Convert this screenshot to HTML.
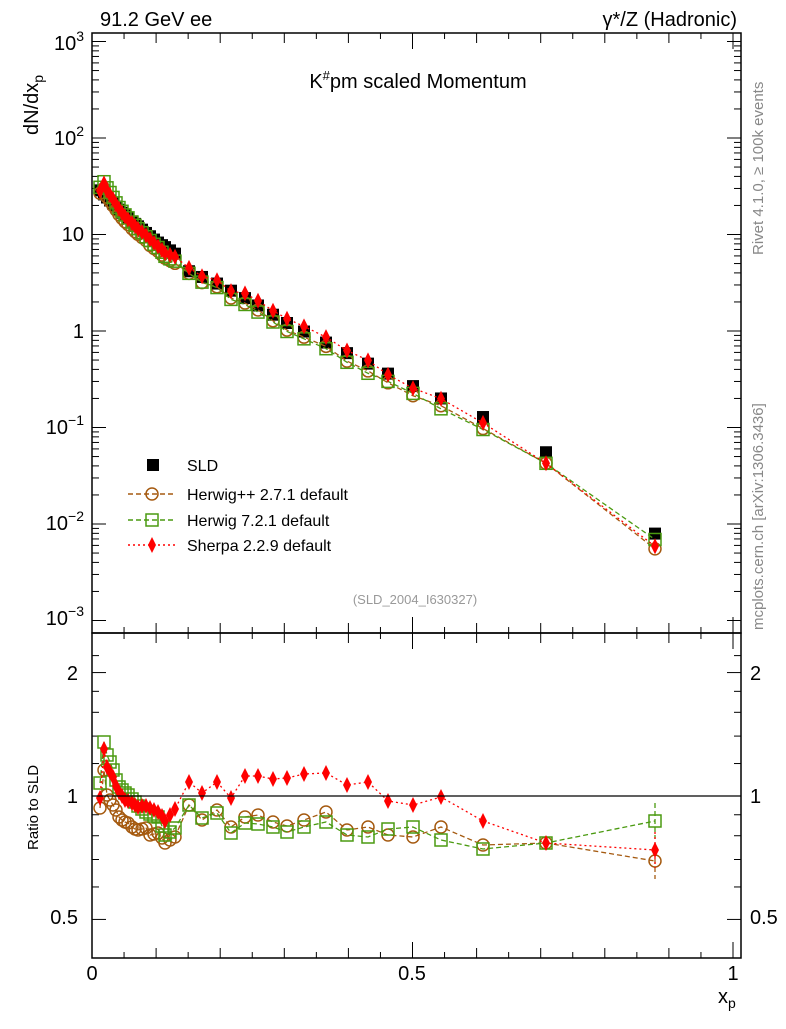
<!DOCTYPE html>
<html><head><meta charset="utf-8"><style>
body{margin:0;background:#fff}
svg{font-family:"Liberation Sans",sans-serif}
</style></head><body>
<svg id="s" width="786" height="1024" xmlns="http://www.w3.org/2000/svg">
<rect x="0" y="0" width="786" height="1024" fill="#fff"/>
<g id="g"></g>
<rect x="92" y="33" width="649" height="600" fill="none" stroke="#000" stroke-width="1.5"/>
<rect x="92" y="633" width="649" height="325" fill="none" stroke="#000" stroke-width="1.5"/>
<line x1="92" y1="796" x2="741" y2="796" stroke="#000" stroke-width="1.3"/>
<text x="100" y="26" font-size="20">91.2 GeV ee</text>
<text x="737" y="26" font-size="20" text-anchor="end">γ*/Z (Hadronic)</text>
<text x="418" y="88" font-size="20" text-anchor="middle">K<tspan font-size="13" dy="-8">#</tspan><tspan dy="8">pm scaled Momentum</tspan></text>
<text x="415" y="604" font-size="13" fill="#999" text-anchor="middle">(SLD_2004_I630327)</text>
<text transform="translate(763,255) rotate(-90)" font-size="15" fill="#888">Rivet 4.1.0, ≥ 100k events</text>
<text transform="translate(763,630) rotate(-90)" font-size="15" fill="#888">mcplots.cern.ch [arXiv:1306.3436]</text>
<text transform="translate(38,135) rotate(-90)" font-size="20">dN/dx<tspan font-size="14" dy="5">p</tspan></text>
<text transform="translate(38,850) rotate(-90)" font-size="15">Ratio to SLD</text>
<text x="718" y="1003" font-size="20">x<tspan font-size="14" dy="5">p</tspan></text>
<g font-size="20" text-anchor="end">
<text x="84" y="50">10<tspan font-size="14" dy="-9">3</tspan></text>
<text x="84" y="145">10<tspan font-size="14" dy="-9">2</tspan></text>
<text x="84" y="241">10</text>
<text x="84" y="338">1</text>
<text x="84" y="434">10<tspan font-size="14" dy="-9">−1</tspan></text>
<text x="84" y="530">10<tspan font-size="14" dy="-9">−2</tspan></text>
<text x="84" y="625">10<tspan font-size="14" dy="-9">−3</tspan></text>
<text x="78" y="680">2</text>
<text x="78" y="803">1</text>
<text x="78" y="924">0.5</text>
</g>
<g font-size="20">
<text x="750" y="680">2</text>
<text x="750" y="803">1</text>
<text x="750" y="924">0.5</text>
</g>
<g font-size="20" text-anchor="middle">
<text x="92" y="980">0</text>
<text x="412" y="980">0.5</text>
<text x="733" y="980">1</text>
</g>
<g font-size="16">
<rect x="147" y="459" width="12" height="12" fill="#000"/>
<text x="187" y="471">SLD</text>
<line x1="128" y1="494" x2="176" y2="494" stroke="#a55a10" stroke-dasharray="5,3" stroke-width="1.5"/>
<circle cx="152" cy="494" r="6" fill="none" stroke="#a55a10" stroke-width="1.5"/>
<text x="187" y="500">Herwig++ 2.7.1 default</text>
<line x1="128" y1="520" x2="176" y2="520" stroke="#4a9a10" stroke-dasharray="5,3" stroke-width="1.5"/>
<rect x="146" y="514" width="12" height="12" fill="none" stroke="#4a9a10" stroke-width="1.5"/>
<text x="187" y="526">Herwig 7.2.1 default</text>
<line x1="128" y1="545" x2="176" y2="545" stroke="#f00" stroke-dasharray="2,3" stroke-width="1.5"/>
<polygon points="152,537 156,545 152,553 148,545" fill="#f00"/>
<text x="187" y="551">Sherpa 2.2.9 default</text>
</g>
</svg>
<script>
var g=document.getElementById('g'),NS='http://www.w3.org/2000/svg';
function el(t,a){var e=document.createElementNS(NS,t);for(var k in a)e.setAttribute(k,a[k]);g.appendChild(e);return e;}
function X(x){return 92+641*x;}
function Y(v){return 331-96.5*Math.log10(v);}
function R(r){return 796-410*Math.log10(r);}
for(var d=-3;d<=3;d++){for(var m=1;m<10;m++){var v=m*Math.pow(10,d);var y=Y(v);if(y<33||y>633)continue;var L=m==1?14:7;
el('line',{x1:92,y1:y,x2:92+L,y2:y,stroke:'#000'});el('line',{x1:741,y1:y,x2:741-L,y2:y,stroke:'#000'});}}
[0.5,0.6,0.7,0.8,0.9,1,1.2,1.4,1.6,1.8,2,2.2].forEach(function(r){var y=R(r);var L=(r==0.5||r==1||r==2)?14:7;
el('line',{x1:92,y1:y,x2:92+L,y2:y,stroke:'#000'});el('line',{x1:741,y1:y,x2:741-L,y2:y,stroke:'#000'});});
for(var i=0;i<=20;i++){var x=X(i*0.05);if(x>741)continue;var L=i%10==0?16:(i%2==0?10:6);
[[33,1],[633,-1],[633,1],[958,-1]].forEach(function(p){el('line',{x1:x,y1:p[0],x2:x,y2:p[0]+p[1]*L,stroke:'#000'});});}
var px=[100,104,107,110,113,116,119,122,125,128,132,135,138,142,146,150,154,158,162,165,170,175,189,202,217,231,245,258,273,287,304,326,347,368,388,413,441,483,546,655];
var sh=[798,749,767,772,777,786,792,796,800,801,803,805,807,806,806,808,810,812,816,821,815,809,782,793,782,798,776,776,779,778,774,773,785,782,801,805,797,821,843,850];
var h7=[783,742,755,762,770,780,787,790,793,795,799,802,806,809,812,814,816,817,826,835,832,828,805,818,813,833,823,824,827,832,827,822,835,837,829,827,840,849,843,821];
var hp=[808,770,795,800,805,810,817,820,822,823,827,829,830,829,828,835,834,833,838,843,840,837,805,820,810,827,817,815,822,826,820,812,830,827,835,837,827,845,843,861];
var an=[[0.014,28],[0.05,16],[0.1,8.5],[0.13,6.3],[0.15,4.2],[0.2,3.0],[0.25,2.0],[0.3,1.25],[0.4,0.58],[0.5,0.27],[0.62,0.12],[0.72,0.05],[0.88,0.0078]];
function sld(x){for(var i=0;i<an.length-1;i++){if(x<=an[i+1][0]){var t=(x-an[i][0])/(an[i+1][0]-an[i][0]);return Math.pow(10,Math.log10(an[i][1])*(1-t)+Math.log10(an[i+1][1])*t);}}return an[an.length-1][1];}
function xv(p){return (p-92)/641;}
function series(arr,col,dash,mk){var p1=[],p2=[];px.forEach(function(p,i){var r=Math.pow(10,(796-arr[i])/410);p1.push(p+','+Y(sld(xv(p))*r));p2.push(p+','+arr[i]);});
el('polyline',{points:p1.join(' '),fill:'none',stroke:col,'stroke-dasharray':dash,'stroke-width':1.3});
el('polyline',{points:p2.join(' '),fill:'none',stroke:col,'stroke-dasharray':dash,'stroke-width':1.3});
var n=px.length-1;el('line',{x1:655,y1:arr[n]-18,x2:655,y2:arr[n]+18,stroke:col,'stroke-dasharray':dash,'stroke-width':1.3});
px.forEach(function(p,i){var r=Math.pow(10,(796-arr[i])/410);mk(p,Y(sld(xv(p))*r));mk(p,arr[i]);});}
px.forEach(function(p){var y=Y(sld(xv(p)));el('rect',{x:p-6,y:y-6,width:12,height:12,fill:'#000'});});
series(hp,'#a55a10','5,3',function(x,y){el('circle',{cx:x,cy:y,r:6,fill:'#fff','fill-opacity':0,stroke:'#a55a10','stroke-width':1.5});});
series(h7,'#4a9a10','5,3',function(x,y){el('rect',{x:x-6,y:y-6,width:12,height:12,fill:'none',stroke:'#4a9a10','stroke-width':1.5});});
series(sh,'#f00','2,3',function(x,y){el('polygon',{points:x+','+(y-8)+' '+(x+4)+','+y+' '+x+','+(y+8)+' '+(x-4)+','+y,fill:'#f00'});});
</script>
</body></html>
